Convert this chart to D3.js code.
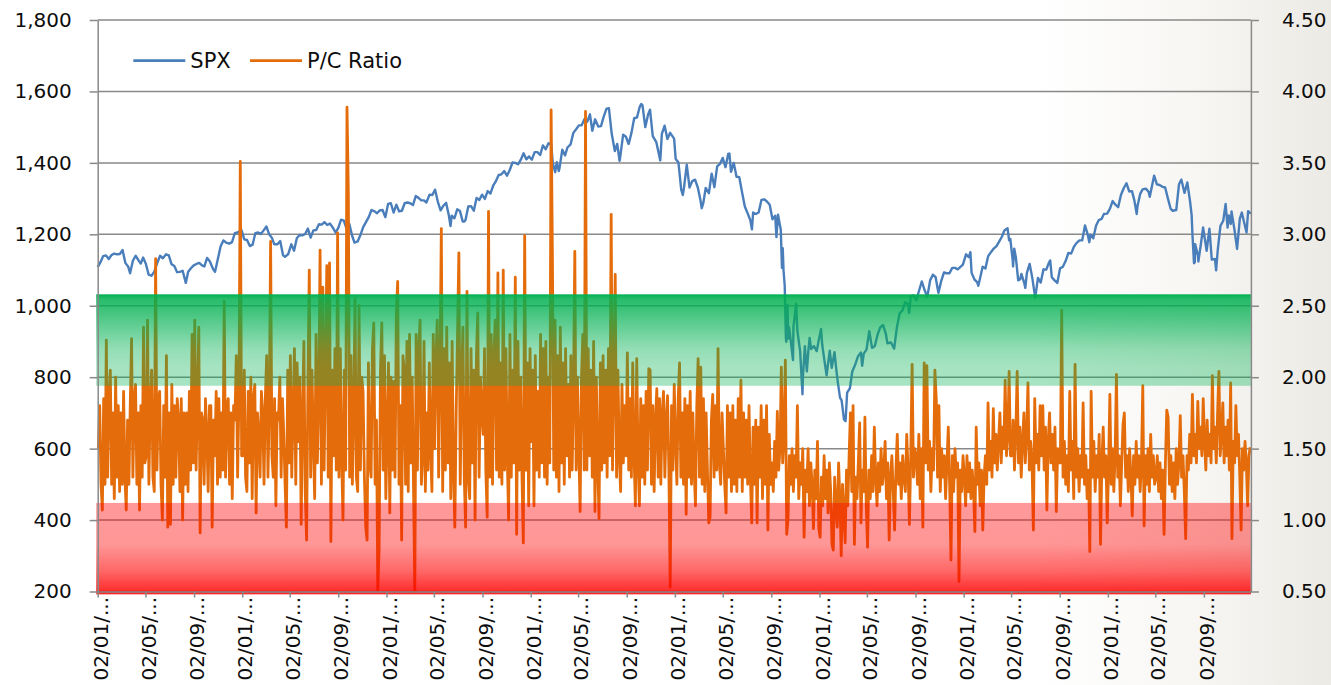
<!DOCTYPE html>
<html><head><meta charset="utf-8">
<script src="https://cdn.jsdelivr.net/npm/d3@7"></script>
<style>html,body{margin:0;padding:0;background:#fff;overflow:hidden}svg{display:block}</style>
</head><body>
<svg id="chart" width="1331" height="685"></svg>
<script>
// ---------- DATA ----------
const seriesNames = ["SPX", "P/C Ratio"];
const leftTicks = [200, 400, 600, 800, 1000, 1200, 1400, 1600, 1800];
const leftTickLabels = ["200", "400", "600", "800", "1,000", "1,200", "1,400", "1,600", "1,800"];
const rightTicks = [0.5, 1.0, 1.5, 2.0, 2.5, 3.0, 3.5, 4.0, 4.5];
const rightTickLabels = ["0.50", "1.00", "1.50", "2.00", "2.50", "3.00", "3.50", "4.00", "4.50"];
const xTickDates = ["2004-01-02","2004-05-02","2004-09-02","2005-01-02","2005-05-02","2005-09-02",
  "2006-01-02","2006-05-02","2006-09-02","2007-01-02","2007-05-02","2007-09-02",
  "2008-01-02","2008-05-02","2008-09-02","2009-01-02","2009-05-02","2009-09-02",
  "2010-01-02","2010-05-02","2010-09-02","2011-01-02","2011-05-02","2011-09-02"];
const xTickLabels = ["02/01/...","02/05/...","02/09/...","02/01/...","02/05/...","02/09/...",
  "02/01/...","02/05/...","02/09/...","02/01/...","02/05/...","02/09/...",
  "02/01/...","02/05/...","02/09/...","02/01/...","02/05/...","02/09/...",
  "02/01/...","02/05/...","02/09/...","02/01/...","02/05/...","02/09/..."];
const dataEnd = "2011-12-30";
// shaded P/C zones (right axis units)
const greenZone = [1.94, 2.58];
const redZone = [0.48, 1.12];

const spx2004 = [["2004-01-02",1108],["2004-01-09",1122],["2004-01-16",1139],["2004-01-23",1141],["2004-01-30",1131],
["2004-02-06",1142],["2004-02-13",1146],["2004-02-20",1144],["2004-02-27",1145],["2004-03-05",1156],["2004-03-12",1120],
["2004-03-19",1110],["2004-03-24",1091],["2004-03-31",1126],["2004-04-07",1140],["2004-04-14",1128],["2004-04-20",1118],
["2004-04-26",1135],["2004-05-03",1117],["2004-05-10",1087],["2004-05-17",1084],["2004-05-24",1095],["2004-06-01",1121],
["2004-06-08",1140],["2004-06-15",1133],["2004-06-23",1144],["2004-06-30",1141],["2004-07-07",1116],["2004-07-14",1111],
["2004-07-21",1094],["2004-07-28",1095],["2004-08-04",1098],["2004-08-12",1064],["2004-08-18",1095],["2004-08-25",1105],
["2004-09-01",1113],["2004-09-08",1117],["2004-09-15",1120],["2004-09-22",1113],["2004-09-28",1110],["2004-10-05",1134],
["2004-10-12",1124],["2004-10-20",1103],["2004-10-25",1095],["2004-11-01",1130],["2004-11-08",1166],["2004-11-15",1183],
["2004-11-22",1177],["2004-11-30",1174],["2004-12-07",1178],["2004-12-14",1203],["2004-12-21",1205],["2004-12-31",1212]];
const spx2005 = [["2005-01-07",1186],["2005-01-14",1184],["2005-01-21",1167],["2005-01-28",1171],["2005-02-04",1203],
["2005-02-11",1205],["2005-02-18",1201],["2005-02-25",1211],["2005-03-04",1222],["2005-03-11",1200],["2005-03-18",1190],
["2005-03-24",1172],["2005-04-01",1172],["2005-04-08",1181],["2005-04-15",1142],["2005-04-20",1137],["2005-04-28",1144],
["2005-05-06",1172],["2005-05-13",1154],["2005-05-20",1189],["2005-05-27",1198],["2005-06-03",1197],["2005-06-10",1201],
["2005-06-17",1216],["2005-06-24",1191],["2005-07-01",1211],["2005-07-08",1212],["2005-07-15",1228],["2005-07-22",1227],
["2005-07-29",1234],["2005-08-05",1226],["2005-08-12",1230],["2005-08-19",1219],["2005-08-26",1205],["2005-09-02",1218],
["2005-09-09",1241],["2005-09-16",1238],["2005-09-23",1215],["2005-09-30",1229],["2005-10-07",1196],["2005-10-13",1177],
["2005-10-21",1180],["2005-10-28",1198],["2005-11-04",1220],["2005-11-11",1234],["2005-11-18",1248],["2005-11-25",1268],
["2005-12-02",1265],["2005-12-09",1259],["2005-12-16",1267],["2005-12-23",1268],["2005-12-30",1248]];
const spx2006 = [["2006-01-06",1285],["2006-01-13",1287],["2006-01-20",1261],["2006-01-27",1283],["2006-02-03",1264],
["2006-02-10",1266],["2006-02-17",1287],["2006-02-24",1289],["2006-03-03",1287],["2006-03-10",1282],["2006-03-17",1307],
["2006-03-24",1302],["2006-03-31",1295],["2006-04-07",1295],["2006-04-13",1289],["2006-04-21",1311],["2006-04-28",1310],
["2006-05-05",1325],["2006-05-12",1291],["2006-05-19",1267],["2006-05-26",1280],["2006-06-02",1288],["2006-06-09",1252],
["2006-06-13",1223],["2006-06-16",1252],["2006-06-23",1245],["2006-06-30",1270],["2006-07-07",1265],["2006-07-14",1236],
["2006-07-18",1236],["2006-07-21",1240],["2006-07-28",1278],["2006-08-04",1279],["2006-08-11",1266],["2006-08-18",1302],
["2006-08-25",1296],["2006-09-01",1311],["2006-09-08",1299],["2006-09-15",1321],["2006-09-22",1314],["2006-09-29",1336],
["2006-10-06",1349],["2006-10-13",1366],["2006-10-20",1368],["2006-10-27",1377],["2006-11-03",1364],["2006-11-10",1380],
["2006-11-17",1401],["2006-11-24",1400],["2006-12-01",1396],["2006-12-08",1409],["2006-12-15",1427],["2006-12-22",1410],
["2006-12-29",1418]];
const spx2007 = [["2007-01-05",1409],["2007-01-12",1430],["2007-01-19",1430],["2007-01-26",1422],["2007-02-02",1449],
["2007-02-09",1438],["2007-02-16",1455],["2007-02-23",1451],["2007-02-27",1399],["2007-03-02",1387],["2007-03-05",1374],
["2007-03-09",1402],["2007-03-14",1377],["2007-03-16",1386],["2007-03-23",1437],["2007-03-30",1421],["2007-04-05",1443],
["2007-04-13",1452],["2007-04-20",1484],["2007-04-27",1494],["2007-05-04",1505],["2007-05-11",1505],["2007-05-18",1522],
["2007-05-25",1515],["2007-06-01",1536],["2007-06-07",1490],["2007-06-14",1522],["2007-06-22",1502],["2007-06-29",1503],
["2007-07-06",1530],["2007-07-13",1552],["2007-07-19",1553],["2007-07-26",1482],["2007-08-03",1433],["2007-08-09",1453],
["2007-08-15",1406],["2007-08-16",1411],["2007-08-24",1479],["2007-08-31",1473],["2007-09-07",1453],["2007-09-14",1484],
["2007-09-21",1525],["2007-09-28",1527],["2007-10-05",1557],["2007-10-09",1565],["2007-10-12",1561],["2007-10-19",1500],
["2007-10-26",1535],["2007-10-31",1549],["2007-11-07",1475],["2007-11-16",1458],["2007-11-26",1407],["2007-11-30",1481],
["2007-12-07",1504],["2007-12-14",1467],["2007-12-21",1484],["2007-12-31",1468]];
const spx2008 = [["2008-01-04",1411],["2008-01-11",1401],["2008-01-18",1325],["2008-01-22",1310],["2008-01-25",1330],
["2008-02-01",1395],["2008-02-08",1331],["2008-02-15",1349],["2008-02-22",1353],["2008-02-29",1331],["2008-03-07",1294],
["2008-03-10",1273],["2008-03-14",1288],["2008-03-20",1330],["2008-03-28",1315],["2008-04-04",1370],["2008-04-11",1332],
["2008-04-18",1390],["2008-04-25",1397],["2008-05-02",1414],["2008-05-09",1388],["2008-05-16",1425],["2008-05-19",1426],
["2008-05-23",1375],["2008-05-30",1400],["2008-06-06",1361],["2008-06-13",1360],["2008-06-20",1318],["2008-06-27",1278],
["2008-07-03",1262],["2008-07-11",1239],["2008-07-15",1214],["2008-07-18",1261],["2008-07-25",1257],["2008-08-01",1261],
["2008-08-08",1296],["2008-08-15",1298],["2008-08-22",1292],["2008-08-29",1283],["2008-09-05",1242],["2008-09-12",1252],
["2008-09-15",1192],["2008-09-19",1255],["2008-09-26",1213],["2008-09-29",1106],["2008-10-01",1161],["2008-10-03",1099],
["2008-10-06",1056],["2008-10-09",910],["2008-10-10",899],["2008-10-13",1003],["2008-10-15",908],["2008-10-17",940],
["2008-10-22",896],["2008-10-24",876],["2008-10-27",848],["2008-10-28",941],["2008-10-31",968],["2008-11-04",1006],
["2008-11-07",930],["2008-11-14",873],["2008-11-20",752],["2008-11-21",800],["2008-11-26",887],["2008-12-01",816],
["2008-12-05",876],["2008-12-08",910],["2008-12-12",879],["2008-12-19",887],["2008-12-26",873],["2008-12-31",903]];
const spx2009 = [["2009-01-06",935],["2009-01-09",890],["2009-01-15",843],["2009-01-20",805],["2009-01-23",832],
["2009-01-28",874],["2009-02-02",826],["2009-02-09",870],["2009-02-13",827],["2009-02-17",789],["2009-02-23",743],
["2009-02-27",735],["2009-03-05",682],["2009-03-09",677],["2009-03-13",757],["2009-03-20",769],["2009-03-26",816],
["2009-04-02",834],["2009-04-09",857],["2009-04-17",869],["2009-04-20",832],["2009-04-24",866],["2009-05-01",877],
["2009-05-08",929],["2009-05-15",882],["2009-05-22",887],["2009-05-29",919],["2009-06-05",940],["2009-06-12",946],
["2009-06-19",921],["2009-06-23",895],["2009-07-02",897],["2009-07-10",880],["2009-07-17",940],["2009-07-24",979],
["2009-07-31",987],["2009-08-07",1010],["2009-08-14",1005],["2009-08-17",980],["2009-08-21",1026],["2009-08-28",1029],
["2009-09-04",1016],["2009-09-11",1042],["2009-09-18",1068],["2009-09-25",1044],["2009-10-02",1025],["2009-10-09",1071],
["2009-10-16",1087],["2009-10-23",1080],["2009-10-30",1036],["2009-11-06",1069],["2009-11-13",1093],["2009-11-20",1091],
["2009-11-27",1091],["2009-12-04",1106],["2009-12-11",1106],["2009-12-18",1102],["2009-12-31",1115]];
const spx2010 = [["2010-01-08",1144],["2010-01-15",1136],["2010-01-19",1150],["2010-01-22",1092],["2010-01-29",1074],
["2010-02-05",1066],["2010-02-08",1056],["2010-02-12",1075],["2010-02-19",1109],["2010-02-26",1104],["2010-03-05",1139],
["2010-03-12",1150],["2010-03-19",1160],["2010-03-26",1167],["2010-04-01",1178],["2010-04-09",1194],["2010-04-15",1211],
["2010-04-23",1217],["2010-04-27",1183],["2010-04-30",1187],["2010-05-06",1128],["2010-05-07",1110],["2010-05-10",1160],
["2010-05-14",1136],["2010-05-20",1071],["2010-05-25",1074],["2010-05-28",1089],["2010-06-04",1065],["2010-06-07",1050],
["2010-06-11",1092],["2010-06-18",1117],["2010-06-25",1076],["2010-07-02",1022],["2010-07-09",1078],["2010-07-16",1065],
["2010-07-23",1102],["2010-07-30",1101],["2010-08-06",1121],["2010-08-09",1127],["2010-08-13",1080],["2010-08-20",1071],
["2010-08-27",1064],["2010-09-03",1105],["2010-09-10",1109],["2010-09-17",1125],["2010-09-24",1148],["2010-10-01",1146],
["2010-10-08",1165],["2010-10-15",1176],["2010-10-22",1183],["2010-10-29",1183],["2010-11-05",1225],["2010-11-12",1199],
["2010-11-16",1178],["2010-11-19",1199],["2010-11-26",1189],["2010-12-03",1224],["2010-12-10",1240],["2010-12-17",1243],
["2010-12-23",1257],["2010-12-31",1258]];
const spx2011 = [["2011-01-07",1271],["2011-01-14",1293],["2011-01-21",1283],["2011-01-28",1276],["2011-02-04",1310],
["2011-02-11",1329],["2011-02-18",1343],["2011-02-25",1320],["2011-03-04",1321],["2011-03-10",1295],["2011-03-16",1257],
["2011-03-18",1279],["2011-03-25",1314],["2011-03-31",1326],["2011-04-08",1328],["2011-04-15",1319],["2011-04-18",1305],
["2011-04-29",1364],["2011-05-06",1340],["2011-05-13",1338],["2011-05-20",1333],["2011-05-27",1331],["2011-06-03",1300],
["2011-06-10",1271],["2011-06-15",1266],["2011-06-24",1268],["2011-07-01",1340],["2011-07-07",1353],["2011-07-15",1316],
["2011-07-22",1345],["2011-07-29",1292],["2011-08-02",1254],["2011-08-04",1200],["2011-08-08",1119],["2011-08-09",1172],
["2011-08-10",1121],["2011-08-11",1172],["2011-08-18",1140],["2011-08-19",1124],["2011-08-26",1177],["2011-08-31",1219],
["2011-09-09",1154],["2011-09-16",1216],["2011-09-22",1129],["2011-09-30",1131],["2011-10-03",1099],["2011-10-07",1155],
["2011-10-14",1224],["2011-10-21",1238],["2011-10-27",1285],["2011-11-01",1219],["2011-11-04",1253],["2011-11-09",1229],
["2011-11-11",1264],["2011-11-18",1216],["2011-11-25",1159],["2011-12-02",1244],["2011-12-07",1261],["2011-12-12",1237],
["2011-12-19",1205],["2011-12-23",1265],["2011-12-30",1258]];

// P/C ratio readings: each year = three 4-month periods (Jan-Apr, May-Aug, Sep-Dec), 36 readings each
const pc2004 = [
1.50,1.80,1.25,1.07,1.85,1.25,2.26,1.30,1.85,2.05,1.25,1.75,1.15,2.00,1.30,1.80,1.20,1.75,1.25,1.90,1.30,1.07,1.70,1.25,1.80,2.27,1.30,1.85,1.95,1.25,1.75,1.07,1.80,1.30,2.35,1.40,
1.45,2.40,1.25,1.80,2.05,1.30,1.20,2.83,1.35,1.85,1.90,1.25,1.00,1.80,1.30,2.15,0.95,1.75,0.97,1.95,1.25,1.80,1.30,1.85,1.70,1.20,1.85,1.00,1.75,1.25,1.75,1.20,1.90,1.35,2.30,1.40,
2.40,1.35,1.85,2.35,0.91,1.75,1.70,1.25,1.85,1.60,1.20,1.80,1.80,0.95,1.70,1.45,1.90,1.25,1.85,1.30,1.75,1.35,2.53,1.30,1.80,1.85,1.25,1.75,1.15,1.80,1.70,2.15,1.30,1.85,3.51,1.45];
const pc2005 = [
1.45,2.05,1.30,1.20,1.90,1.40,2.00,1.15,1.85,1.95,1.05,1.75,1.60,1.30,1.90,1.75,1.25,1.85,2.15,1.30,1.80,2.95,1.45,1.30,1.85,1.10,1.75,1.70,2.00,1.30,1.85,1.60,1.25,0.95,2.05,1.40,
2.15,1.30,1.75,2.20,1.25,2.10,1.55,2.00,0.97,1.70,2.25,1.20,0.86,1.95,2.75,1.30,2.05,1.55,1.15,2.30,1.40,1.85,2.89,1.25,2.63,1.35,2.10,2.78,1.30,2.80,0.85,2.05,1.45,2.20,1.35,3.01,
1.30,2.20,1.45,1.00,2.05,1.35,3.89,3.29,1.30,2.15,1.25,1.75,2.55,1.30,1.20,2.50,1.35,2.00,1.90,1.30,0.95,0.86,2.10,1.40,1.30,2.20,2.38,1.25,1.70,0.51,0.80,2.05,2.38,1.35,2.15,1.15];
const pc2006 = [
1.60,2.10,1.05,2.00,1.35,1.97,1.30,2.45,2.67,1.25,1.80,0.86,2.15,2.05,1.25,2.25,1.20,2.30,1.40,2.00,1.25,0.50,2.30,1.35,2.20,2.40,1.25,1.45,2.25,1.20,1.75,1.35,2.10,1.50,1.20,2.30,
1.50,2.15,2.40,1.30,2.05,3.04,1.20,2.20,1.35,2.35,1.40,2.10,1.15,2.25,1.35,0.95,1.75,2.30,2.87,1.25,2.00,2.35,1.30,0.95,2.60,1.30,1.15,2.20,1.40,2.05,1.00,2.15,2.45,1.30,2.00,1.75,
1.60,2.20,1.35,1.02,3.16,1.30,2.30,1.25,2.15,2.40,1.35,2.73,1.30,2.10,1.25,2.75,1.35,2.20,1.45,1.00,2.30,1.30,2.05,1.40,2.70,0.90,2.25,1.35,2.00,1.30,0.84,2.99,1.35,2.10,1.10,2.20];
const pc2007 = [
1.55,2.05,1.10,2.15,1.35,1.90,1.30,2.30,1.40,2.20,1.30,2.25,1.25,2.00,1.40,3.87,2.84,1.35,2.40,1.30,2.15,1.20,2.35,1.40,2.10,1.25,2.20,1.45,1.95,1.30,2.15,1.35,1.90,2.88,1.35,2.00,
1.50,1.06,2.00,2.30,1.35,3.86,1.35,2.20,1.45,2.05,1.30,2.25,1.06,2.00,1.40,1.01,2.10,1.35,2.15,1.40,2.05,1.30,2.20,1.45,3.14,1.35,2.00,2.72,1.30,2.05,1.45,1.20,1.95,1.40,1.80,1.45,
2.17,1.35,1.85,1.30,2.10,1.45,1.10,2.13,1.40,1.10,1.85,1.30,1.80,1.25,1.90,1.35,2.06,2.05,1.25,1.80,1.20,1.70,1.92,1.30,1.85,1.25,1.75,1.90,1.30,1.70,1.87,1.35,0.53,1.80,1.35,1.95];
const pc2008 = [
1.55,1.25,1.85,2.10,1.30,1.75,1.25,1.85,1.04,1.80,1.30,1.90,1.25,1.75,1.35,1.10,1.80,2.13,1.30,2.07,1.25,1.85,1.20,1.75,1.35,0.98,1.02,1.70,1.88,1.30,1.80,1.35,2.20,1.40,1.25,1.75,
1.50,1.25,1.05,1.80,1.30,1.75,1.20,1.80,1.25,1.70,1.20,1.85,1.30,1.98,1.20,1.75,1.30,1.70,1.25,1.80,1.30,0.98,1.65,1.25,1.70,0.98,1.65,1.30,1.80,1.15,1.70,1.25,1.80,0.93,1.60,1.25,
1.40,1.20,1.55,1.30,1.76,1.35,1.50,2.07,1.40,1.60,2.12,0.90,1.00,1.45,1.25,1.50,1.20,1.45,1.30,1.80,1.15,1.40,1.25,1.50,0.88,1.35,1.20,1.50,1.10,1.40,1.25,0.94,1.35,1.15,1.55,0.94];
const pc2009 = [
0.88,1.30,1.10,1.45,1.15,1.35,1.05,1.40,1.20,0.83,0.79,1.30,1.10,0.95,1.40,1.15,0.75,1.25,1.05,0.84,1.35,1.10,1.45,1.75,1.20,1.80,0.83,1.30,1.15,1.40,1.68,0.98,1.35,1.20,1.72,1.10,
0.81,1.35,1.15,1.45,1.20,1.65,1.30,1.10,1.40,1.20,1.50,1.25,1.35,1.55,1.15,1.40,0.86,1.30,1.45,1.20,0.93,1.35,1.60,1.25,1.40,1.15,1.45,1.30,1.20,1.60,1.35,0.97,1.45,2.09,1.30,1.50,
1.45,1.25,1.60,1.15,1.50,0.95,2.10,1.40,2.08,1.35,1.55,1.20,1.50,1.35,2.05,1.85,1.30,1.80,1.20,1.50,1.30,1.45,1.15,1.40,1.65,1.25,0.72,1.45,1.20,1.50,1.30,1.40,0.57,1.35,1.20,1.45];
const pc2010 = [
1.30,1.10,1.45,1.20,1.40,1.15,1.35,1.20,0.92,1.65,1.25,1.40,1.10,1.35,0.93,1.30,1.45,1.25,1.82,1.35,1.55,1.30,1.78,1.40,1.60,1.35,1.55,1.75,1.40,1.65,1.50,1.98,1.45,1.60,2.04,1.45,
1.45,1.70,1.35,1.60,2.04,1.40,1.65,1.30,1.55,1.75,1.40,1.60,1.96,1.35,1.55,1.40,0.93,1.85,1.40,1.60,1.35,1.80,1.45,1.80,1.35,1.65,1.07,1.55,1.75,1.40,1.60,1.35,1.65,1.06,1.50,1.40,
1.40,2.47,1.30,1.55,1.25,1.45,1.20,1.90,1.35,1.55,1.15,2.09,1.30,1.50,1.20,1.45,1.30,1.82,1.25,1.45,1.15,1.35,0.78,1.90,1.30,1.55,1.20,1.45,1.30,1.60,0.83,1.40,1.65,1.30,1.45,0.98];
const pc2011 = [
1.35,1.88,1.25,1.50,1.20,1.45,2.02,1.30,1.45,1.10,1.40,1.67,1.75,1.30,1.45,1.20,1.50,1.30,1.03,1.45,1.25,1.55,1.30,1.45,1.20,1.40,1.94,0.96,1.45,1.25,1.50,1.20,1.60,1.30,1.45,1.25,
1.30,1.45,1.20,1.40,1.15,1.35,0.90,1.40,1.77,1.72,1.25,1.45,1.20,1.40,1.15,1.50,1.25,1.40,1.73,1.30,1.45,1.20,0.87,1.45,1.35,1.60,1.40,1.88,1.45,1.60,1.40,1.83,1.50,1.65,1.45,1.85,
1.55,1.35,1.70,1.45,1.60,1.40,2.01,1.50,1.65,1.40,1.75,2.04,1.45,1.60,1.82,1.40,1.65,1.45,1.70,1.35,1.96,0.87,1.55,1.40,1.80,1.45,1.60,1.30,0.93,1.50,1.35,1.55,1.40,1.10,1.45,1.51];

// ---------- RENDER ----------
const W = 1331, H = 685;
const plot = {left: 97.7, right: 1250.9, top: 20, bottom: 591.5};
const FONT = "'DejaVu Sans', sans-serif";
const GRID = "#898989";
const parse = d3.utcParse("%Y-%m-%d");

const svg = d3.select("#chart");
const defs = svg.append("defs");

const bg = defs.append("linearGradient").attr("id","bg").attr("x1",0).attr("x2",1).attr("y1",0).attr("y2",0);
[[0,"#ffffff"],[0.78,"#ffffff"],[0.9,"#f7f6f3"],[1,"#ebeae5"]].forEach(([o,c])=>bg.append("stop").attr("offset",o).attr("stop-color",c));
const gg = defs.append("linearGradient").attr("id","greenGrad").attr("x1",0).attr("x2",0).attr("y1",0).attr("y2",1);
[[0,1],[0.05,0.85],[0.6,0.42],[0.8,0.35],[1,0.35]].forEach(([o,a])=>gg.append("stop").attr("offset",o).attr("stop-color","#00b050").attr("stop-opacity",a));
const rg = defs.append("linearGradient").attr("id","redGrad").attr("x1",0).attr("x2",0).attr("y1",0).attr("y2",1);
[[0,0.4],[0.45,0.41],[0.75,0.6],[1,0.86]].forEach(([o,a])=>rg.append("stop").attr("offset",o).attr("stop-color","#ff0000").attr("stop-opacity",a));

svg.append("rect").attr("width",W).attr("height",H).attr("fill","url(#bg)");

const x = d3.scaleUtc().domain([parse(xTickDates[0]), parse(dataEnd)]).range([plot.left, plot.right]);
const yL = d3.scaleLinear().domain([200, 1800]).range([plot.bottom, plot.top]);
const yR = d3.scaleLinear().domain([0.5, 4.5]).range([plot.bottom, plot.top]);

// gridlines
svg.append("g").selectAll("line").data(leftTicks).join("line")
  .attr("x1", plot.left).attr("x2", plot.right)
  .attr("y1", d=>yL(d)).attr("y2", d=>yL(d))
  .attr("stroke", GRID).attr("stroke-width", 1.5);

// SPX
const spxData = [].concat(spx2004, spx2005, spx2006, spx2007, spx2008, spx2009, spx2010, spx2011)
  .map(([d,v])=>({date: parse(d), value: v}));
svg.append("path").datum(spxData)
  .attr("fill","none").attr("stroke","#4a7ebb").attr("stroke-width",2.4).attr("stroke-linejoin","round")
  .attr("d", d3.line().x(d=>x(d.date)).y(d=>yL(d.value)));

// P/C
const bounds = xTickDates.concat([dataEnd]).map(parse);
const pcYears = [pc2004, pc2005, pc2006, pc2007, pc2008, pc2009, pc2010, pc2011];
const pcData = [];
pcYears.forEach((arr, yi) => {
  const per = arr.length / 3;
  arr.forEach((v, i) => {
    const k = yi * 3 + Math.floor(i / per), j = i % per;
    const t0 = +bounds[k], t1 = +bounds[k + 1];
    pcData.push({date: new Date(t0 + (j + 0.5) / per * (t1 - t0)), value: v});
  });
});
svg.append("path").datum(pcData)
  .attr("fill","none").attr("stroke","#e46c0a").attr("stroke-width",2.8).attr("stroke-linejoin","round")
  .attr("d", d3.line().x(d=>x(d.date)).y(d=>yR(d.value)));

// zones
svg.append("rect").attr("x", plot.left - 1.5).attr("width", plot.right - plot.left + 1.5)
  .attr("y", yR(greenZone[1])).attr("height", yR(greenZone[0]) - yR(greenZone[1])).attr("fill","url(#greenGrad)");
svg.append("rect").attr("x", plot.left - 1.5).attr("width", plot.right - plot.left + 1.5)
  .attr("y", yR(redZone[1])).attr("height", yR(redZone[0]) - yR(redZone[1])).attr("fill","url(#redGrad)");

// axes
function styleAxis(g){
  g.selectAll(".domain").attr("stroke", GRID).attr("stroke-width", 1.5);
  g.selectAll(".tick line").attr("stroke", GRID).attr("stroke-width", 1.5);
  g.selectAll("text").attr("font-family", FONT).attr("font-size", 20).attr("fill", "#0d0d0d");
}
svg.append("g").attr("transform", `translate(${plot.left},0)`)
  .call(d3.axisLeft(yL).tickValues(leftTicks).tickFormat((d,i)=>leftTickLabels[i]).tickSizeInner(8).tickSizeOuter(0).tickPadding(18))
  .call(styleAxis);
svg.append("g").attr("transform", `translate(${plot.right},0)`)
  .call(d3.axisRight(yR).tickValues(rightTicks).tickFormat((d,i)=>rightTickLabels[i]).tickSizeInner(8).tickSizeOuter(0).tickPadding(23))
  .call(styleAxis);
const xAxisG = svg.append("g").attr("transform", `translate(0,${plot.bottom})`)
  .call(d3.axisBottom(x).tickValues(xTickDates.map(parse)).tickFormat((d,i)=>xTickLabels[i]).tickSizeInner(6).tickSizeOuter(0))
  .call(styleAxis);
xAxisG.selectAll(".tick text")
  .attr("transform","rotate(-90)").attr("x",-5.5).attr("y",0).attr("dy","0.48em").attr("text-anchor","end");

// legend
const legend = svg.append("g").attr("font-family", FONT).attr("font-size", 21).attr("fill", "#0d0d0d");
const legendItems = [{name: seriesNames[0], color: "#4a7ebb", x0: 133.3}, {name: seriesNames[1], color: "#e46c0a", x0: 250}];
legendItems.forEach(it => {
  legend.append("line").attr("x1", it.x0).attr("x2", it.x0 + 52).attr("y1", 60.7).attr("y2", 60.7)
    .attr("stroke", it.color).attr("stroke-width", 2.7);
  legend.append("text").attr("x", it.x0 + 57).attr("y", 68.4).text(it.name);
});
</script>
</body></html>
